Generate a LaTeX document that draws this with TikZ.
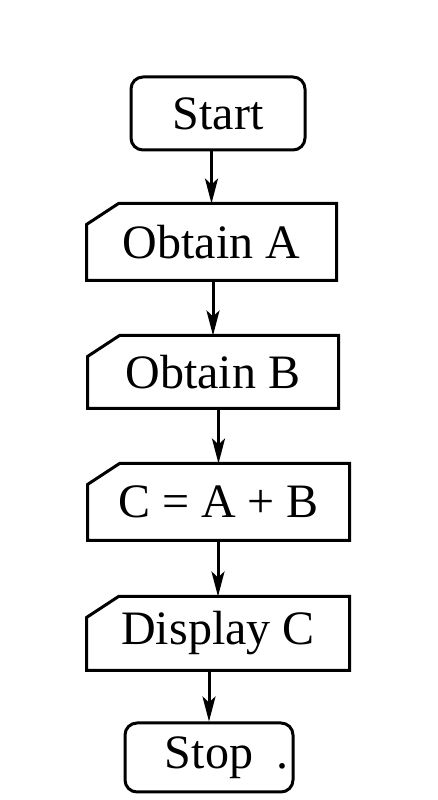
\documentclass[tikz,border=0pt]{standalone}
\usepackage{fontspec}
\setmainfont{Liberation Serif}
\usetikzlibrary{arrows.meta,calc}
\begin{document}
\begin{tikzpicture}[x=1pt, y=1pt, line width=3pt,
    >={Stealth[length=25pt,width=13pt,inset=6pt]},
    terminal/.style={draw, rounded corners=12pt, inner sep=0pt, font=\fontsize{48}{50}\selectfont},
    inputbox/.style={inner sep=0pt, font=\fontsize{48}{50}\selectfont}]
    \useasboundingbox (0,0) rectangle (437,800);

    % Nodi
    \node[terminal, minimum width=174pt, minimum height=73pt] (start) at (218,686.5) {Start};
    \node[inputbox, minimum width=247pt, minimum height=74pt] (obtA) at (211.5,558) {Obtain A};
    \node[inputbox, minimum width=248pt, minimum height=70pt] (obtB) at (213,428) {Obtain B};
    \node[inputbox, minimum width=259pt, minimum height=74pt] (somma) at (218.5,298) {C = A + B};
    \node[inputbox, minimum width=260pt, minimum height=71pt] (disp) at (218,166.5) {Display C};
    \node[terminal, minimum width=168pt, minimum height=69pt] (stop) at (209,42.5) {\hspace{36pt}Stop\hspace{24pt}.};

    % Bordi degli input manuali
    \foreach \n in {obtA,obtB,somma,disp} {
        \draw ($(\n.north west)+(32,0)$) -- (\n.north east) -- (\n.south east) -- (\n.south west) -- ($(\n.north west)+(0,-21)$) -- cycle;
    }

    % Frecce
    \draw[->, fill=darkgray] (obtA.north |- start.south) -- (obtA.north);
    \draw[->, fill=darkgray] (obtB.north |- obtA.south) -- (obtB.north);
    \draw[->, fill=darkgray] (somma.north |- obtB.south) -- (somma.north);
    \draw[->, fill=darkgray] (disp.north |- somma.south) -- (disp.north);
    \draw[->, fill=darkgray] (stop.north |- disp.south) -- (stop.north);
\end{tikzpicture}
\end{document}
